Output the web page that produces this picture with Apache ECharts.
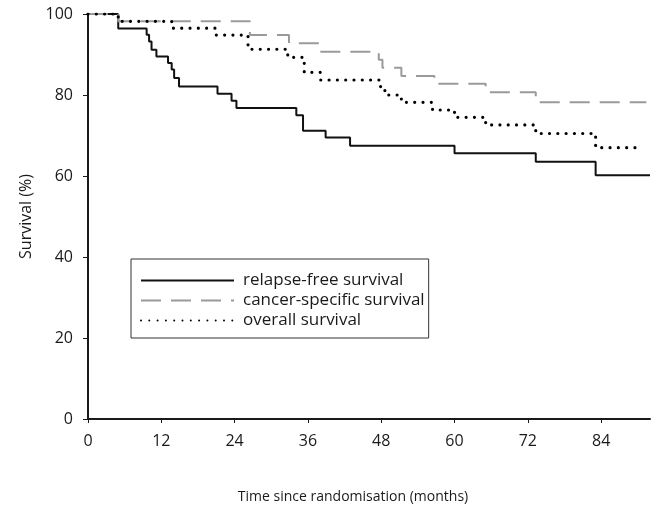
<!DOCTYPE html>
<html>
<head>
<meta charset="utf-8">
<script src="https://cdn.jsdelivr.net/npm/echarts@6/dist/echarts.min.js"></script>
<style>
  html, body { margin: 0; padding: 0; background: #fff; }
  #chart { width: 654px; height: 508px; }
</style>
</head>
<body>
<div id="chart"></div>
<script>
// months since randomisation, survival % after each step
const rfsTime = [0, 4.95, 9.6, 10.0, 10.4, 11.2, 13.1, 13.7, 14.1, 14.9, 21.2, 23.5, 24.3, 34.1, 35.2, 38.9, 42.9, 60.0, 73.3, 83.1, 92]
const rfsSurv = [100, 96.4, 94.9, 93.2, 91.2, 89.5, 87.9, 86.3, 84.2, 82.1, 80.3, 78.6, 76.8, 75.0, 71.2, 69.5, 67.5, 65.6, 63.5, 60.2, 60.2]

const cssTime = [0, 4.95, 26.5, 32.9, 37.9, 47.6, 48.2, 51.3, 56.7, 65.1, 73.3, 91.4]
const cssSurv = [100, 98.2, 94.8, 92.8, 90.7, 88.7, 86.7, 84.7, 82.8, 80.7, 78.2, 78.2]

const osTime = [0, 4.95, 13.7, 21.0, 26.2, 32.7, 35.4, 38.1, 47.9, 48.6, 51.3, 56.4, 60.0, 65.1, 73.3, 83.1, 90.8]
const osSurv = [100, 98.2, 96.5, 94.8, 91.3, 89.3, 85.6, 83.7, 81.9, 80.0, 78.2, 76.3, 74.5, 72.6, 70.5, 67.0, 67.0]

const xTicks = [0, 12, 24, 36, 48, 60, 72, 84]
const seriesNames = ['relapse-free survival', 'cancer-specific survival', 'overall survival']

const pairs = (t, s) => t.map((x, i) => [x, s[i]])

const chart = echarts.init(document.getElementById('chart'))
const font = 'Open Sans'
const ink = '#1a1a1a'

const option = {
  animation: false,
  textStyle: { fontFamily: font },
  grid: { left: 88, right: 4, top: 14, bottom: 89 },
  legend: {
    orient: 'vertical',
    left: 131,
    top: 259,
    padding: [13, 4, 9, 9],
    itemGap: 3,
    itemWidth: 93,
    itemHeight: 14,
    borderColor: '#333',
    borderWidth: 1,
    selectedMode: false,
    itemStyle: { opacity: 0 },
    textStyle: { fontFamily: font, fontSize: 17, color: ink, padding: [0, 0, 0, 4] },
    data: seriesNames
  },
  xAxis: {
    type: 'value',
    min: 0,
    max: 92,
    interval: 12,
    splitLine: { show: false },
    axisLine: { onZero: false, lineStyle: { color: ink, width: 2 } },
    axisTick: { length: 4, lineStyle: { color: ink, width: 1 }, customValues: xTicks },
    axisLabel: { fontFamily: font, fontSize: 16, color: ink, margin: 14, customValues: xTicks }
  },
  yAxis: {
    type: 'value',
    min: 0,
    max: 100,
    interval: 20,
    name: 'Survival (%)',
    nameLocation: 'middle',
    nameGap: 54,
    nameTextStyle: { fontFamily: font, fontSize: 16, color: ink },
    splitLine: { show: false },
    axisLine: { show: true, lineStyle: { color: ink, width: 2 } },
    axisTick: { show: true, length: 5, lineStyle: { color: ink, width: 1 } },
    axisLabel: { fontFamily: font, fontSize: 16, color: ink, margin: 15 }
  },
  graphic: [{
    type: 'text',
    x: 353,
    y: 497,
    style: {
      text: 'Time since randomisation (months)',
      font: '14px "Open Sans"',
      fill: ink,
      textAlign: 'center',
      textVerticalAlign: 'middle',
      align: 'center',
      verticalAlign: 'middle'
    }
  }],
  series: [
    {
      name: seriesNames[0],
      type: 'line',
      step: 'end',
      symbol: 'none',
      lineStyle: { color: '#111', width: 2 },
      itemStyle: { color: '#111' },
      data: pairs(rfsTime, rfsSurv)
    },
    {
      name: seriesNames[1],
      type: 'line',
      step: 'end',
      symbol: 'none',
      lineStyle: { color: '#9a9a9a', width: 2, type: [20, 10] },
      itemStyle: { color: '#9a9a9a' },
      data: pairs(cssTime, cssSurv)
    },
    {
      name: seriesNames[2],
      type: 'line',
      step: 'end',
      symbol: 'none',
      lineStyle: { color: '#000', width: 3.2, type: [0, 8.3], cap: 'round' },
      itemStyle: { color: '#000' },
      data: pairs(osTime, osSurv)
    }
  ]
}

chart.setOption(option)
</script>
</body>
</html>
